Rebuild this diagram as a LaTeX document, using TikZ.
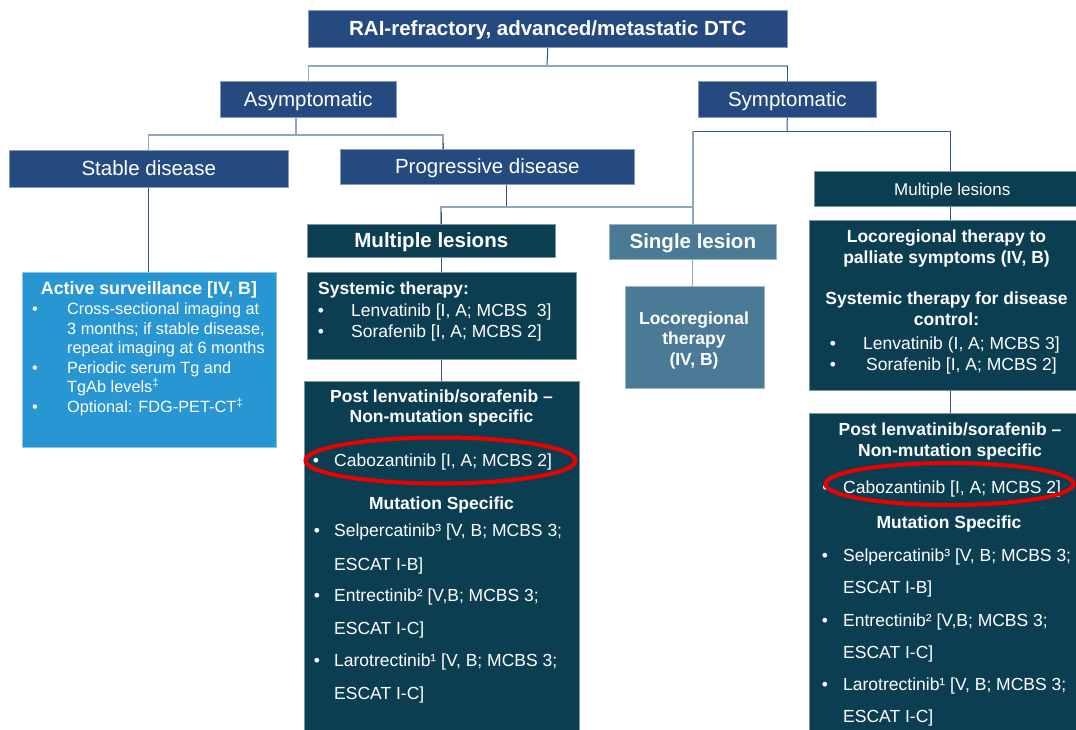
\documentclass[tikz,border=0pt]{standalone}
\usepackage{fontspec}
\setmainfont{Liberation Sans}
\definecolor{navy}{RGB}{36,74,128}
\definecolor{deepteal}{RGB}{12,62,82}
\definecolor{slate}{RGB}{74,122,150}
\definecolor{sky}{RGB}{40,150,210}
\definecolor{lnD}{RGB}{47,82,143}
\definecolor{lnL}{RGB}{143,165,200}
\definecolor{ovalred}{RGB}{236,0,0}
\newcommand\ttlfont{\fontsize{20.5}{24}\selectfont}
\newcommand\bdyfont{\fontsize{17.5}{21}\selectfont}
\newcommand\smlfont{\fontsize{16.3}{19.6}\selectfont}
\begin{document}
\begin{tikzpicture}[x=1pt,y=-1pt,
  box/.style={rectangle, anchor=north west, inner sep=0pt, fill=#1, draw=#1!55!white, line width=0.6pt, text=white, text height=16pt, text depth=2pt},
  lD/.style={draw=lnD, line width=1pt},
  lL/.style={draw=lnL, line width=1.3pt},
  tx/.style={text=white, inner sep=0pt, anchor=base west, font=\bdyfont},
  txc/.style={text=white, inner sep=0pt, anchor=base, font=\bdyfont\bfseries},
  bul/.style={text=white, inner sep=0pt, anchor=base, font=\bdyfont},
  oval/.style={draw=ovalred, line width=4pt}]
\useasboundingbox[fill=white] (0,0) rectangle (1076,729);

% ---------- boxes ----------
\node[box=navy, minimum width=479pt, minimum height=37pt, font=\ttlfont\bfseries] (top) at (308,10) {RAI-refractory, advanced/metastatic DTC};
\node[box=navy, minimum width=176pt, minimum height=36pt, font=\ttlfont] (asym) at (220,81) {Asymptomatic};
\node[box=navy, minimum width=178pt, minimum height=36pt, font=\ttlfont] (sym) at (698,81) {Symptomatic};
\node[box=navy, minimum width=279pt, minimum height=37pt, font=\ttlfont] (stable) at (9,150) {Stable disease};
\node[box=navy, minimum width=294pt, minimum height=35pt, font=\ttlfont] (prog) at (340,149) {Progressive disease};
\node[box=deepteal, minimum width=248pt, minimum height=33pt, font=\ttlfont\bfseries] (mml) at (307,224) {Multiple lesions};
\node[box=slate, minimum width=167pt, minimum height=35pt, font=\ttlfont\bfseries] (single) at (609,224) {Single lesion};
\node[box=deepteal, minimum width=262pt, minimum height=35pt, font=\fontsize{17}{20}\selectfont] (rml) at (814,171) {\hspace*{14pt}Multiple lesions};
\node[box=sky, minimum width=254pt, minimum height=175pt] (act) at (22,272) {};
\node[box=deepteal, minimum width=269pt, minimum height=87pt] (sys) at (307,272) {};
\node[box=slate, minimum width=139pt, minimum height=102pt] (loco) at (625,286) {};
\node[box=deepteal, minimum width=267pt, minimum height=170pt] (rloco) at (809,220) {};
\node[box=deepteal, minimum width=275pt, minimum height=349pt] (post) at (304,381) {};
\node[box=deepteal, minimum width=267pt, minimum height=317pt] (rpost) at (809,413) {};

% ---------- helper coordinates ----------
\coordinate (j1) at (547,66);
\coordinate (j2) at (296,135);
\coordinate (j3) at (787,131);
\coordinate (j4) at (506,207);
\coordinate (cP) at (443,0);
\coordinate (cM) at (441,0);
\coordinate (cS) at (693,0);
\coordinate (cR) at (950,0);

% ---------- connectors ----------
\draw[lD] (top.south) -- (j1);
\draw[lL] (j1) -| (asym.north);
\draw[lL] (j1) -| (sym.north);
\draw[lD] (sym.north) -- (sym.north |- j1);

\draw[lL] (asym.south -| j2) -- (j2);
\draw[lL] (j2) -| (stable.north);
\draw[lL] (j2) -| (prog.north -| cP);
\draw[lD] (prog.north -| cP) -- ++(0,-6);

\draw[lD] (sym.south) -- (j3);
\draw[lD] (j3) -| (rml.north -| cR);
\draw[lD] (j3) -- (j3 -| cS);
\draw[lL] (j3 -| cS) -- (single.north -| cS);

\draw[lD] (prog.south -| j4) -- (j4);
\draw[lL] (j4) -- (j4 -| cS);
\draw[lL] (j4) -| (mml.north -| cM);
\draw[lD] (mml.north -| cM) -- ++(0,-12);

\draw[lD] (stable.south) -- (act.north -| stable.south);
\draw[lD] (mml.south -| cM) -- (sys.north -| cM);
\draw[lD] (sys.south -| cM) -- (post.north -| cM);
\draw[lL] (single.south) -- (loco.north -| single.south);
\draw[lD] (rml.south -| cR) -- (rloco.north -| cR);
\draw[lD] (rloco.south -| cR) -- (rpost.north -| cR);

% ---------- Active surveillance ----------
\node[txc, font=\fontsize{17.8}{21}\selectfont\bfseries] (a0) at (149,294) {Active surveillance [IV, B]};
\node[bul, font=\smlfont] (ab1) at (35,314.3) {•};
\node[tx, font=\smlfont] (a1) at (67,314.3) {Cross-sectional imaging at};
\node[tx, font=\smlfont] (a2) at (67,334) {3 months; if stable disease,};
\node[tx, font=\smlfont] (a3) at (67,353.3) {repeat imaging at 6 months};
\node[bul, font=\smlfont] (ab2) at (35,373.3) {•};
\node[tx, font=\smlfont] (a4) at (67,373.3) {Periodic serum Tg and};
\node[tx, font=\smlfont] (a5) at (67,392.7) {TgAb levels\textsuperscript{‡}};
\node[bul, font=\smlfont] (ab3) at (35,412.3) {•};
\node[tx, font=\smlfont] (a6) at (67,412.3) {Optional: FDG-PET-CT\textsuperscript{‡}};

% ---------- Systemic therapy (middle) ----------
\node[tx, font=\bdyfont\bfseries] (s0) at (318,294) {Systemic therapy:};
\node[bul] (sb1) at (321,316) {•};
\node[tx] (s1) at (351,316) {Lenvatinib [I, A; MCBS\ \ 3]};
\node[bul] (sb2) at (321,337.3) {•};
\node[tx] (s2) at (351,337.3) {Sorafenib [I, A; MCBS 2]};

% ---------- Locoregional (middle) ----------
\node[txc] (l1) at (694,324.3) {Locoregional};
\node[txc] (l2) at (694,344) {therapy};
\node[txc] (l3) at (694,365.7) {(IV, B)};

% ---------- Post (middle) ----------
\node[txc] (p1) at (441.5,402.3) {Post lenvatinib/sorafenib –};
\node[txc] (p2) at (441.5,422.7) {Non-mutation specific};
\node[bul] (pb1) at (316,466.7) {•};
\node[tx] (p3) at (334,466.7) {Cabozantinib [I, A; MCBS 2]};
\node[txc] (p4) at (441.5,509.3) {Mutation Specific};
\node[bul] (pb2) at (317,536.7) {•};
\node[tx] (p5) at (334,536.7) {Selpercatinib³ [V, B; MCBS 3;};
\node[tx] (p6) at (334,570) {ESCAT I-B]};
\node[bul] (pb3) at (317,601.7) {•};
\node[tx] (p7) at (334,601.7) {Entrectinib² [V,B; MCBS 3;};
\node[tx] (p8) at (334,634.3) {ESCAT I-C]};
\node[bul] (pb4) at (317,666) {•};
\node[tx] (p9) at (334,666) {Larotrectinib¹ [V, B; MCBS 3;};
\node[tx] (p10) at (334,699.3) {ESCAT I-C]};

% ---------- Right locoregional ----------
\node[txc] (r1) at (946.5,242.7) {Locoregional therapy to};
\node[txc] (r2) at (946.5,263.3) {palliate symptoms (IV, B)};
\node[txc] (r3) at (946.5,304) {Systemic therapy for disease};
\node[txc] (r4) at (946.5,325.7) {control:};
\node[bul] (rb1) at (833,349) {•};
\node[tx] (r5) at (863,349) {Lenvatinib (I, A; MCBS 3]};
\node[bul] (rb2) at (833,370) {•};
\node[tx] (r6) at (866,370) {Sorafenib [I, A; MCBS 2]};

% ---------- Right post ----------
\node[txc] (q1) at (950,435.7) {Post lenvatinib/sorafenib –};
\node[txc] (q2) at (950,456) {Non-mutation specific};
\node[bul] (qb1) at (825.5,493.3) {•};
\node[tx] (q3) at (843,493.3) {Cabozantinib [I, A; MCBS 2]};
\node[txc] (q4) at (949,528.3) {Mutation Specific};
\node[bul] (qb2) at (825,561) {•};
\node[tx] (q5) at (843,561) {Selpercatinib³ [V, B; MCBS 3;};
\node[tx] (q6) at (843,593.3) {ESCAT I-B]};
\node[bul] (qb3) at (825,626.7) {•};
\node[tx] (q7) at (843,626.7) {Entrectinib² [V,B; MCBS 3;};
\node[tx] (q8) at (843,658.3) {ESCAT I-C]};
\node[bul] (qb4) at (825,690) {•};
\node[tx] (q9) at (843,690) {Larotrectinib¹ [V, B; MCBS 3;};
\node[tx] (q10) at (843,722.7) {ESCAT I-C]};

% ---------- red ovals ----------
\draw[oval] (440.5,460.5) ellipse [x radius=135pt, y radius=23pt];
\draw[oval] (949.5,484) ellipse [x radius=124pt, y radius=21pt];
\end{tikzpicture}
\end{document}
